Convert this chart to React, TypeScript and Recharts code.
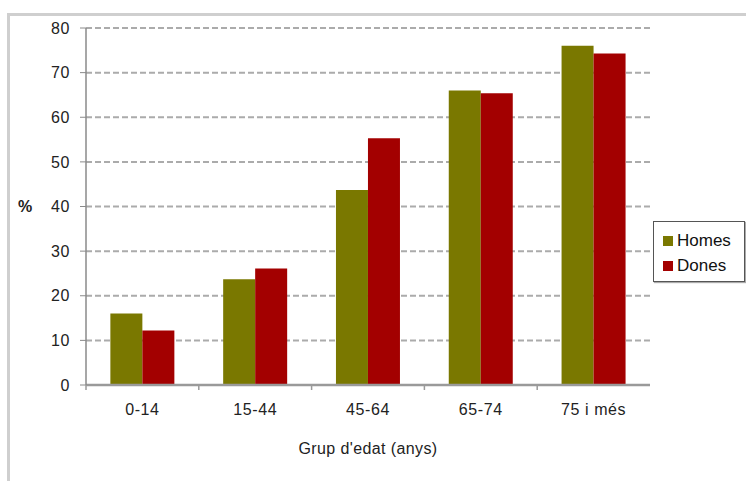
import React from 'react';
import { BarChart, Bar, XAxis, YAxis, CartesianGrid, Label } from 'recharts';

const ageGroups = ['0-14', '15-44', '45-64', '65-74', '75 i més'];
const homes = [16.0, 23.7, 43.7, 66.0, 76.0];
const dones = [12.2, 26.1, 55.3, 65.4, 74.3];
const yTicks = [0, 10, 20, 30, 40, 50, 60, 70, 80];

const FONT = '"Liberation Sans", Arial, sans-serif';

const series = [
  { key: 'Homes', color: '#7a7800' },
  { key: 'Dones', color: '#a30000' },
];

const data = ageGroups.map((g, i) => ({ group: g, Homes: homes[i], Dones: dones[i] }));

// category labels plus the small tick marks at the band edges
function GroupTick(props: any) {
  const { x, y, payload } = props;
  const half = payload.offset || 0;
  return (
    <g>
      <line x1={x - half} x2={x - half} y1={y - 8} y2={y - 3} stroke="#9a9a9a" strokeWidth={1.5} />
      <text x={x} y={y + 22} textAnchor="middle" fontSize={16} letterSpacing={0.6} fill="#222" fontFamily={FONT}>
        {payload.value}
      </text>
    </g>
  );
}

function LegendBox() {
  return (
    <div
      style={{
        position: 'absolute',
        left: 653,
        top: 221,
        width: 92,
        height: 61,
        border: '1px solid #555',
        boxShadow: '1px 1px 1px #aaa',
        background: '#fff',
        boxSizing: 'border-box',
        padding: '6px 0 0 9px',
        fontFamily: FONT,
        fontSize: 17,
        color: '#111',
      }}
    >
      {series.map((s) => (
        <div key={s.key} style={{ display: 'flex', alignItems: 'center', height: 25 }}>
          <span style={{ width: 10, height: 10, background: s.color, marginRight: 4 }} />
          <span>{s.key}</span>
        </div>
      ))}
    </div>
  );
}

export default function App() {
  return (
    <div style={{ position: 'absolute', left: 0, top: 0, width: 746, height: 481, background: '#fff', overflow: 'hidden' }}>
      <div
        style={{
          position: 'absolute',
          left: 7,
          top: 13,
          width: 760,
          height: 500,
          borderLeft: '3px solid #cfcfcf',
          borderTop: '3px solid #cfcfcf',
        }}
      />
      <BarChart
        width={746}
        height={481}
        data={data}
        margin={{ top: 28, right: 96, bottom: 0, left: 0 }}
        barCategoryGap="21.6%"
        barGap={0}
        style={{ position: 'absolute', left: 0, top: 0 }}
      >
        <CartesianGrid vertical={false} stroke="#ababab" strokeWidth={2} strokeDasharray="6 3" />
        <XAxis
          dataKey="group"
          height={96}
          axisLine={{ stroke: '#9a9a9a', strokeWidth: 2.5 }}
          tickLine={false}
          interval={0}
          tick={<GroupTick />}
        >
          <Label
            value="Grup d'edat  (anys)"
            position="insideBottom"
            offset={27}
            style={{ fontSize: 16, fill: '#222', fontFamily: FONT, letterSpacing: 0.4 }}
          />
        </XAxis>
        <YAxis
          width={86}
          domain={[0, 80]}
          ticks={yTicks}
          interval={0}
          axisLine={{ stroke: '#8a8a8a', strokeWidth: 1.5 }}
          tickLine={{ stroke: '#8a8a8a' }}
          tickSize={6}
          tickMargin={10}
          tick={{ fontSize: 16, fill: '#222', fontFamily: FONT, letterSpacing: 0.6 }}
        >
          <Label
            value="%"
            position="insideLeft"
            offset={18}
            style={{ fontSize: 16, fill: '#222', fontFamily: FONT, fontWeight: 'bold' }}
          />
        </YAxis>
        {series.map((s) => (
          <Bar key={s.key} dataKey={s.key} fill={s.color} isAnimationActive={false} />
        ))}
      </BarChart>
      <LegendBox />
    </div>
  );
}
